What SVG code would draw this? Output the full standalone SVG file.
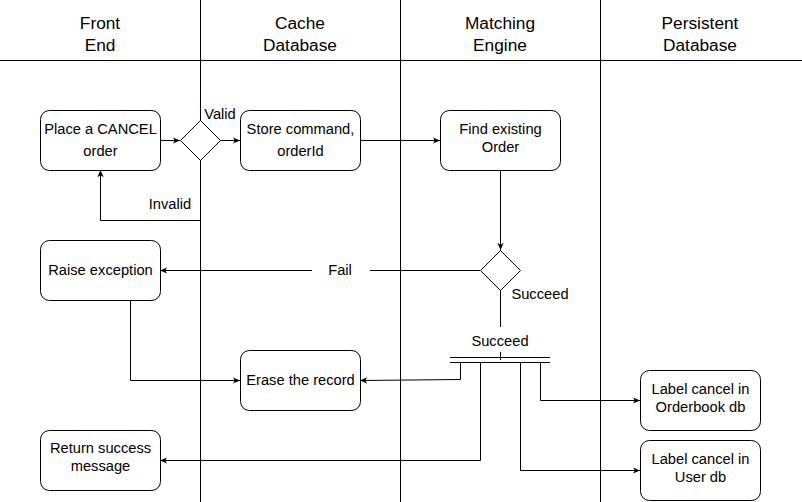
<svg xmlns="http://www.w3.org/2000/svg" width="802" height="502" viewBox="0 0 802 502">
<style>
text{font-family:"Liberation Sans",Arial,sans-serif;fill:#000}
.h{font-size:17.3px;text-anchor:middle}
.t{font-size:14.7px;text-anchor:middle}
.n{fill:#fff;stroke:#000;stroke-width:1}
.c{fill:none;stroke:#000;stroke-width:1}
.lane{stroke:#000;stroke-width:1}
</style>
<defs>
<marker id="a" viewBox="0 0 10 10" refX="9" refY="5" markerWidth="8" markerHeight="8" markerUnits="userSpaceOnUse" orient="auto">
<path d="M0,1 L9,5 L0,9 L2.5,5 Z" fill="#000"/>
</marker>
</defs>
<rect width="802" height="502" fill="#fff"/>
<g id="lanes">
<line class="lane" x1="0" y1="60.5" x2="802" y2="60.5"/>
<line class="lane" x1="200.5" y1="0" x2="200.5" y2="502"/>
<line class="lane" x1="400.5" y1="0" x2="400.5" y2="502"/>
<line class="lane" x1="600.5" y1="0" x2="600.5" y2="502"/>
<text class="h" x="100" y="29">Front</text><text class="h" x="100" y="51">End</text>
<text class="h" x="300" y="29">Cache</text><text class="h" x="300" y="51">Database</text>
<text class="h" x="500" y="29">Matching</text><text class="h" x="500" y="51">Engine</text>
<text class="h" x="700" y="29">Persistent</text><text class="h" x="700" y="51">Database</text>
</g>
<g id="connectors">
<line class="c" x1="160" y1="140.5" x2="180" y2="140.5" marker-end="url(#a)"/>
<line class="c" x1="220" y1="140.5" x2="240" y2="140.5" marker-end="url(#a)"/>
<polyline class="c" points="200.5,160 200.5,220.5 100.5,220.5 100.5,170" marker-end="url(#a)"/>
<line class="c" x1="360" y1="140.5" x2="440" y2="140.5" marker-end="url(#a)"/>
<line class="c" x1="500.5" y1="170" x2="500.5" y2="250" marker-end="url(#a)"/>
<line class="c" x1="480" y1="270.5" x2="370" y2="270.5"/>
<line class="c" x1="312" y1="270.5" x2="160" y2="270.5" marker-end="url(#a)"/>
<line class="c" x1="500.5" y1="290" x2="500.5" y2="327"/>
<line class="c" x1="500.5" y1="352" x2="500.5" y2="360"/>
<line class="c" x1="450" y1="357.5" x2="550" y2="357.5"/>
<line class="c" x1="450" y1="362.5" x2="550" y2="362.5"/>
<polyline class="c" points="460.5,362 460.5,379.5 360,380.5" marker-end="url(#a)" stroke="#555"/>
<polyline class="c" points="480.5,362 480.5,460.5 160,460.5" marker-end="url(#a)"/>
<polyline class="c" points="520.5,362 520.5,470.5 640,470.5" marker-end="url(#a)"/>
<polyline class="c" points="540.5,362 540.5,400.5 640,400.5" marker-end="url(#a)"/>
<polyline class="c" points="130.5,300 130.5,380.5 240,380.5" marker-end="url(#a)"/>
<text class="t" x="220" y="118.5">Valid</text>
<text class="t" x="170" y="209">Invalid</text>
<text class="t" x="340" y="275">Fail</text>
<text class="t" x="540" y="299">Succeed</text>
<text class="t" x="500" y="346">Succeed</text>
</g>
<g id="place"><rect class="n" x="40.5" y="110.5" width="120" height="60" rx="9"/><text class="t" x="100.5" y="134">Place a CANCEL</text><text class="t" x="100.5" y="156">order</text></g>
<g id="d1"><path class="n" d="M200.5,120.5 L220.5,140.5 L200.5,160.5 L180.5,140.5 Z" stroke-width="0.8"/></g>
<g id="store"><rect class="n" x="240.5" y="110.5" width="120" height="60" rx="9"/><text class="t" x="300.5" y="134">Store command,</text><text class="t" x="300.5" y="156">orderId</text></g>
<g id="find"><rect class="n" x="440.5" y="110.5" width="120" height="60" rx="9"/><text class="t" x="500.5" y="134">Find existing</text><text class="t" x="500.5" y="152">Order</text></g>
<g id="d2"><path class="n" d="M500.5,250.5 L520.5,270.5 L500.5,290.5 L480.5,270.5 Z" stroke-width="0.8"/></g>
<g id="raise"><rect class="n" x="40.5" y="240.5" width="120" height="60" rx="9"/><text class="t" x="100.5" y="275">Raise exception</text></g>
<g id="erase"><rect class="n" x="240.5" y="350.5" width="120" height="60" rx="9"/><text class="t" x="300.5" y="385">Erase the record</text></g>
<g id="ret"><rect class="n" x="40.5" y="430.5" width="120" height="60" rx="9"/><text class="t" x="100.5" y="453">Return success</text><text class="t" x="100.5" y="471">message</text></g>
<g id="ob"><rect class="n" x="640.5" y="370.5" width="120" height="60" rx="9"/><text class="t" x="700.5" y="394">Label cancel in</text><text class="t" x="700.5" y="412">Orderbook db</text></g>
<g id="ud"><rect class="n" x="640.5" y="440.5" width="120" height="60" rx="9"/><text class="t" x="700.5" y="464">Label cancel in</text><text class="t" x="700.5" y="482">User db</text></g>
</svg>
